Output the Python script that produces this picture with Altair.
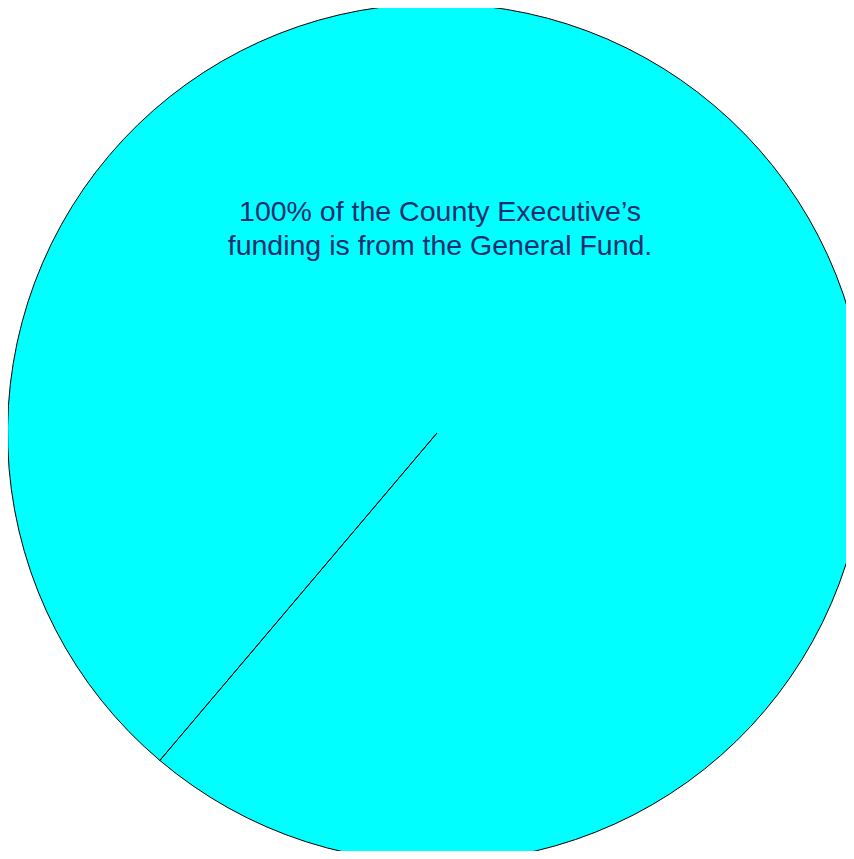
import altair as alt
import pandas as pd

categories = ["General Fund"]
values = [100]
annotation_lines = ["100% of the County Executive\u2019s", "funding is from the General Fund."]

df = pd.DataFrame({"source": categories, "share": values})

start = 3.844
pie = alt.Chart(df).mark_arc(
    outerRadius=429, stroke="black", strokeWidth=1, color="#00ffff"
).encode(
    theta=alt.Theta("share:Q", scale=alt.Scale(range=[start, start + 6.283185307])),
    x=alt.value(429),
    y=alt.value(425),
)

txt = alt.Chart(pd.DataFrame({"t": [annotation_lines]})).mark_text(
    font="Liberation Sans", fontSize=28.5, color="#1a2e6e", align="center", baseline="middle",
    lineHeight=34
).encode(
    text="t",
    x=alt.value(432),
    y=alt.value(204),
)

chart = alt.layer(pie, txt).properties(
    width=838, height=843, autosize=alt.AutoSizeParams(type="none"), padding=0
).configure_view(stroke=None)

chart.save("out.html", embed_options={"renderer": "svg", "actions": False})
